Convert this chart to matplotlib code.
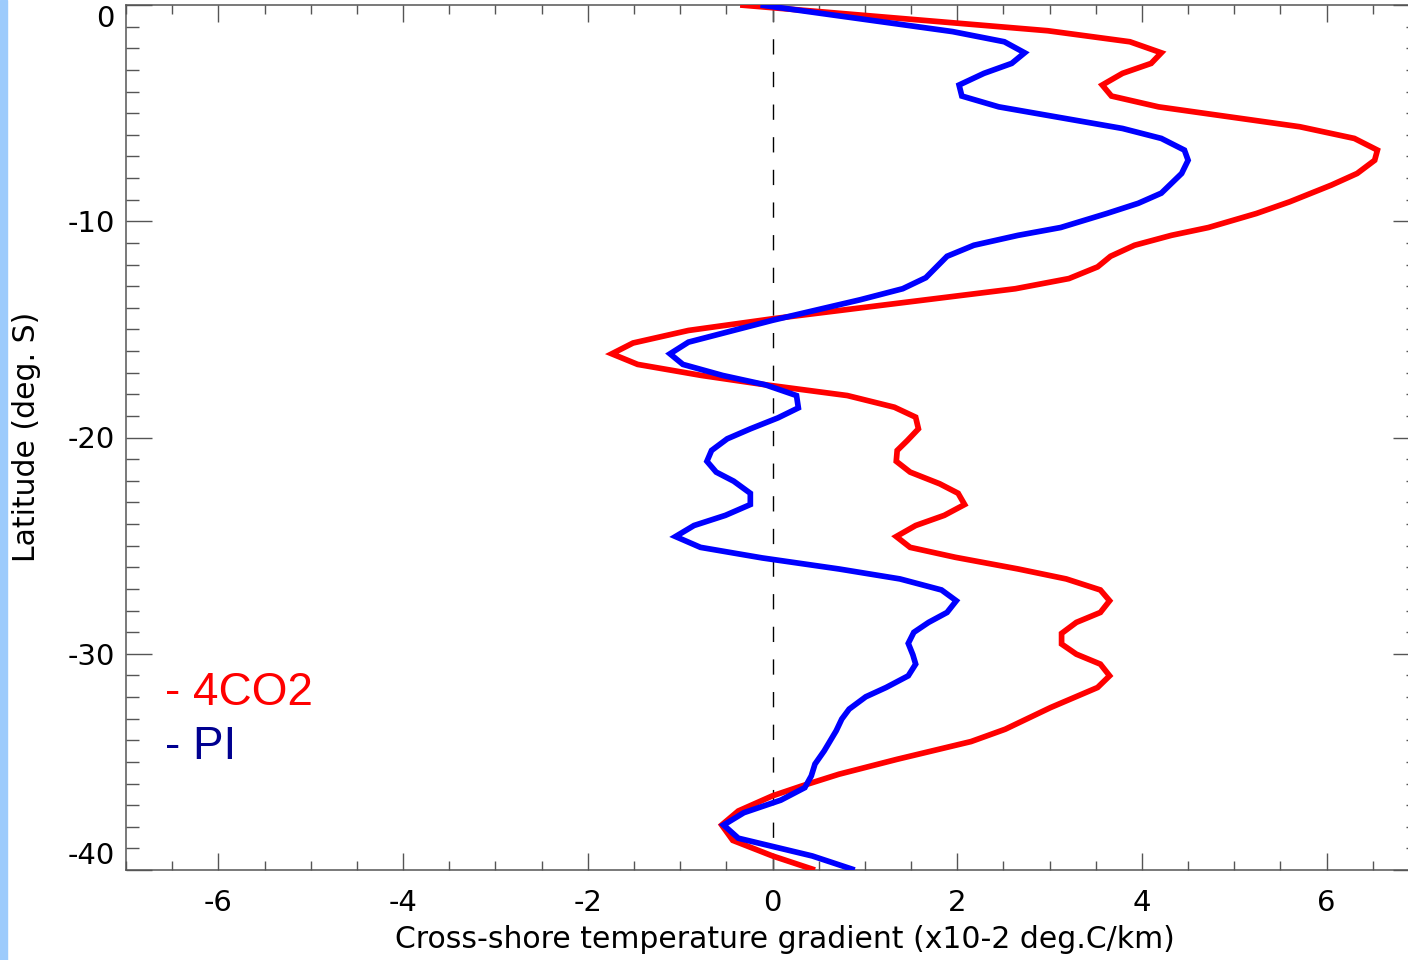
import matplotlib
matplotlib.use("Agg")
from matplotlib import pyplot as plt
from matplotlib.patches import Rectangle
from matplotlib.ticker import MultipleLocator

# latitude (deg) and cross-shore gradient (x10-2 degC/km)
lat_4co2 = [0.0, -1.19, -1.70, -2.21, -2.70, -3.16, -3.70, -4.21, -4.71, -5.63,
            -6.17, -6.71, -7.18, -7.79, -8.33, -9.10, -9.64, -10.29, -10.65, -11.11,
            -11.62, -12.11, -12.65, -13.12, -14.51, -15.05, -15.63, -16.13, -16.62, -17.13,
            -17.56, -18.06, -18.60, -19.06, -19.60, -20.14, -20.60, -21.10, -21.60, -22.14,
            -22.58, -23.10, -23.60, -24.07, -24.58, -25.08, -25.54, -26.08, -26.54, -27.05,
            -27.55, -28.09, -28.55, -29.06, -29.55, -30.02, -30.48, -31.02, -31.56, -32.49,
            -33.49, -34.06, -34.88, -35.57, -36.11, -36.57, -37.27, -37.92, -38.63, -39.35,
            -40.0]
grad_4co2 = [-0.35, 2.98, 3.87, 4.21, 4.10, 3.79, 3.57, 3.67, 4.18, 5.71,
             6.30, 6.55, 6.52, 6.33, 6.05, 5.60, 5.24, 4.72, 4.32, 3.92,
             3.66, 3.52, 3.21, 2.63, 0.0, -0.91, -1.51, -1.74, -1.46, -0.77,
             -0.08, 0.81, 1.32, 1.55, 1.58, 1.46, 1.35, 1.34, 1.49, 1.81,
             2.01, 2.08, 1.86, 1.55, 1.34, 1.49, 1.98, 2.66, 3.18, 3.55,
             3.65, 3.55, 3.29, 3.13, 3.13, 3.29, 3.55, 3.65, 3.52, 3.01,
             2.52, 2.15, 1.35, 0.72, 0.32, 0.0, -0.37, -0.55, -0.43, 0.0,
             0.46]

lat_pi = [0.0, -1.23, -1.70, -2.21, -2.70, -3.16, -3.70, -4.21, -4.71, -5.71,
          -6.17, -6.71, -7.18, -7.79, -8.70, -9.17, -9.64, -10.29, -10.65, -11.11,
          -11.62, -12.61, -13.12, -13.63, -14.58, -15.59, -16.13, -16.62, -17.13, -17.56,
          -18.06, -18.63, -19.09, -19.60, -20.06, -20.60, -21.10, -21.60, -22.02, -22.58,
          -23.10, -23.60, -24.07, -24.58, -25.08, -25.57, -26.08, -26.54, -27.05, -27.55,
          -28.09, -28.55, -29.01, -29.52, -30.05, -30.48, -31.02, -31.56, -31.99, -32.56,
          -33.02, -33.56, -34.49, -35.10, -35.65, -36.19, -36.77, -37.35, -37.92, -38.53,
          -39.35, -40.0]
grad_pi = [-0.13, 1.95, 2.51, 2.73, 2.59, 2.29, 2.02, 2.05, 2.45, 3.79,
           4.21, 4.46, 4.50, 4.43, 4.21, 3.96, 3.62, 3.12, 2.66, 2.18,
           1.89, 1.66, 1.41, 0.95, 0.0, -0.91, -1.11, -0.97, -0.54, -0.08,
           0.26, 0.28, 0.06, -0.24, -0.49, -0.66, -0.71, -0.61, -0.42, -0.24,
           -0.24, -0.51, -0.85, -1.05, -0.78, -0.11, 0.72, 1.38, 1.83, 1.99,
           1.89, 1.69, 1.53, 1.47, 1.52, 1.55, 1.47, 1.23, 1.01, 0.83,
           0.75, 0.69, 0.56, 0.46, 0.42, 0.35, 0.09, -0.31, -0.53, -0.37,
           0.43, 0.89]

xticks = [-6, -4, -2, 0, 2, 4, 6]
yticks = [0, -10, -20, -30, -40]

plt.rcParams['font.family'] = ['DejaVu Sans']

fig = plt.figure(figsize=(14.08, 9.6), dpi=100)
fig.patches.append(Rectangle((0, 0), 7 / 1408, 1, transform=fig.transFigure,
                             color='#9dcbfc', zorder=0))

ax = fig.add_axes([126 / 1408, 90 / 960, 1293 / 1408, 865 / 960])
ax.set_xlim(-7, 7)
ax.set_ylim(-40, 0)

ax.axvline(0, color='black', lw=1.0, dashes=(11, 12.5), zorder=1)
ax.plot(grad_4co2, lat_4co2, color='#ff0000', lw=4.1, solid_joinstyle='miter',
        solid_capstyle='butt', zorder=3)
ax.plot(grad_pi, lat_pi, color='#0000ff', lw=4.1, solid_joinstyle='miter',
        solid_capstyle='butt', zorder=4)

ax.set_xticks(xticks)
ax.set_xticklabels([str(v) for v in xticks])
ax.set_yticks(yticks)
ax.set_yticklabels([str(v) for v in yticks])
ax.xaxis.set_minor_locator(MultipleLocator(0.5))
ax.yaxis.set_minor_locator(MultipleLocator(1))

tick_col = '#555555'
ax.tick_params(axis='x', which='major', direction='in', length=12.2, width=1.0,
               color=tick_col, top=True, labelsize=21, pad=14)
ax.tick_params(axis='x', which='minor', direction='in', length=6.5, width=1.0,
               color=tick_col, top=True)
ax.tick_params(axis='y', which='major', direction='in', length=18.7, width=1.0,
               color=tick_col, right=True, labelsize=21, pad=8)
ax.tick_params(axis='y', which='minor', direction='in', length=9.4, width=1.0,
               color=tick_col, right=True)
for s in ax.spines.values():
    s.set_color(tick_col)
    s.set_linewidth(1.1)

# IDL-style end labels pushed inside the axis range
ylabs = ax.get_yticklabels()
ylabs[0].set_va('top')
ylabs[-1].set_va('bottom')

ax.set_xlabel('Cross-shore temperature gradient (x10-2 deg.C/km)', fontsize=21.5)
ax.xaxis.set_label_coords((785 - 126) / 1293, -(940 - 870) / 865)
ax.xaxis.label.set_va('center')
ax.set_ylabel('Latitude (deg. S)', fontsize=21.5)
ax.yaxis.set_label_coords(-(126 - 27) / 1293, (870 - 437) / 865)
ax.yaxis.label.set_va('center')

ax.text(0.030, 0.2046, '- 4CO2', transform=ax.transAxes, color='#ff0000',
        fontsize=33, family='Liberation Sans', ha='left', va='center')
ax.text(0.030, 0.142, '- PI', transform=ax.transAxes, color='#000090',
        fontsize=33, family='Liberation Sans', ha='left', va='center')

fig.savefig('out.png', dpi=100)
